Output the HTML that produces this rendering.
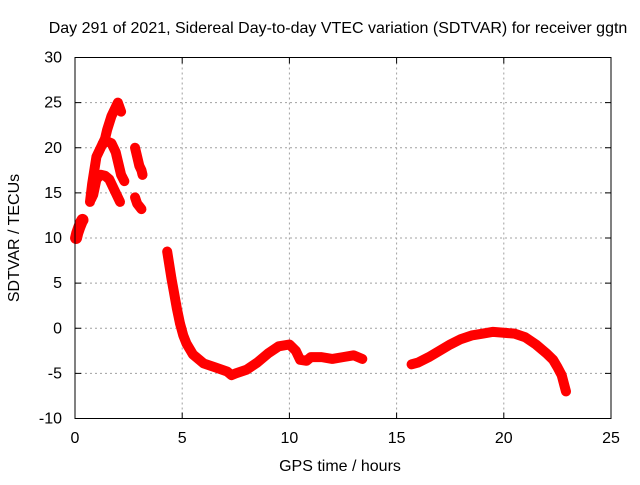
<!DOCTYPE html>
<html><head><meta charset="utf-8"><style>
body{margin:0;background:#fff}
svg text{font-family:"Liberation Sans",sans-serif;font-size:16px;fill:#000}
</style></head><body>
<svg id="chart" width="640" height="480" xmlns="http://www.w3.org/2000/svg">
<rect width="640" height="480" fill="#fff"/>
<text x="338" y="33" text-anchor="middle">Day 291 of 2021, Sidereal Day-to-day VTEC variation (SDTVAR) for receiver ggtn</text>
<g id="grid"></g>
<g id="ticks"></g>
<g id="marks"></g>
<rect x="75" y="57.5" width="536" height="361" fill="none" stroke="#000" stroke-width="1"/>
<text x="340" y="471" text-anchor="middle">GPS time / hours</text>
<text transform="translate(19,238) rotate(-90)" text-anchor="middle">SDTVAR / TECUs</text>
</svg>
<script>
const xTicks=[0,5,10,15,20,25];
const yTicks=[-10,-5,0,5,10,15,20,25,30];
const segA=[[0.05,10],[0.1,10.5],[0.2,11.2],[0.3,11.8],[0.35,12]];
const segB=[[0.7,14],[0.8,16],[0.9,17.5],[1.0,19],[1.1,19.5],[1.2,20],[1.4,21],[1.5,22],[1.7,23.5],[1.9,24.5],[2.0,25],[2.15,24]];
const segC=[[1.3,20.5],[1.5,20.7],[1.7,20.5],[1.9,19.5],[2.0,18.5],[2.15,17],[2.3,16.3]];
const segD=[[0.75,14.3],[0.85,14.8],[1.0,16.5],[1.2,17],[1.4,16.9],[1.6,16.5],[1.8,15.5],[1.9,15],[2.0,14.5],[2.1,14]];
const segE=[[2.8,20],[2.9,19],[3.0,18],[3.1,17.5],[3.15,17]];
const segF=[[2.8,14.5],[2.9,13.8],[3.0,13.5],[3.1,13.2]];
const segP=[[3.5,14],[3.5,11],[4.0,11.3],[4.0,9.8],[4.0,8],[4.0,7.5]];
const segG=[[4.3,8.5],[4.5,5.5],[4.6,4.2],[4.75,2.2],[4.9,0.5],[5.05,-0.8],[5.2,-1.7],[5.5,-2.9],[6.0,-3.9],[6.5,-4.3],[7.1,-4.8],[7.3,-5.2],[7.5,-5],[8.0,-4.6],[8.5,-3.8],[9.0,-2.8],[9.5,-2],[10.0,-1.8],[10.3,-2.5],[10.5,-3.5],[10.8,-3.6],[11.0,-3.2],[11.5,-3.2],[12.0,-3.4],[12.5,-3.2],[13.0,-3.0],[13.4,-3.4]];
const segH=[[15.7,-4],[16.0,-3.8],[16.5,-3.2],[17.0,-2.5],[17.5,-1.8],[18.0,-1.2],[18.5,-0.8],[19.0,-0.6],[19.5,-0.4],[20.0,-0.5],[20.5,-0.6],[21.0,-1.0],[21.5,-1.8],[22.0,-2.8],[22.3,-3.5],[22.5,-4.3],[22.7,-5.2],[22.9,-7]];
const segs=[segA,segB,segC,segD,segE,segF,segG,segH];
const NS="http://www.w3.org/2000/svg";
const X0=75,X1=611,Y0=418.5,Y1=57.5;
const sx=v=>X0+(v-0)/25*(X1-X0);
const sy=v=>Y0-(v+10)/40*(Y0-Y1);
function mk(t,a,p){const e=document.createElementNS(NS,t);for(const k in a)e.setAttribute(k,a[k]);p.appendChild(e);return e;}
const grid=document.getElementById('grid'),ticks=document.getElementById('ticks'),marks=document.getElementById('marks');
xTicks.forEach(v=>{const x=sx(v);
 if(v>0&&v<25){const l=mk('line',{x1:x,x2:x,y1:Y1,y2:Y0,stroke:'#a0a0a0','stroke-dasharray':'2,3'},grid);
 
 }
 mk('line',{x1:x,x2:x,y1:Y0,y2:Y0-6,stroke:'#000'},ticks);
 mk('line',{x1:x,x2:x,y1:Y1,y2:Y1+6,stroke:'#000'},ticks);
 const t=mk('text',{x:x,y:443,'text-anchor':'middle'},ticks);t.textContent=v;
 
 });
yTicks.forEach(v=>{const y=sy(v);
 if(v>-10&&v<30){const l=mk('line',{x1:X0,x2:X1,y1:y,y2:y,stroke:'#a0a0a0','stroke-dasharray':'2,3'},grid);
 
 }
 mk('line',{x1:X0,x2:X0+6,y1:y,y2:y,stroke:'#000'},ticks);
 mk('line',{x1:X1,x2:X1-6,y1:y,y2:y,stroke:'#000'},ticks);
 const t=mk('text',{x:62,y:y+5,'text-anchor':'end'},ticks);t.textContent=v;
 
 });
segs.forEach(s=>{
 if(s.length>1&&s!==segP){const p=mk('polyline',{points:s.map(d=>sx(d[0])+','+sy(d[1])).join(' '),fill:'none',stroke:'#f00','stroke-width':(s===segA?12:10),'stroke-linejoin':'round','stroke-linecap':'round'},marks);
 
 }
 s.forEach(d=>{const x=sx(d[0]),y=sy(d[1]);
  const g=mk('path',{d:`M${x-4},${y}h8M${x},${y-4}v8`,stroke:'#f00','stroke-width':1.5},marks);
  
  });
});
</script>
</body></html>
